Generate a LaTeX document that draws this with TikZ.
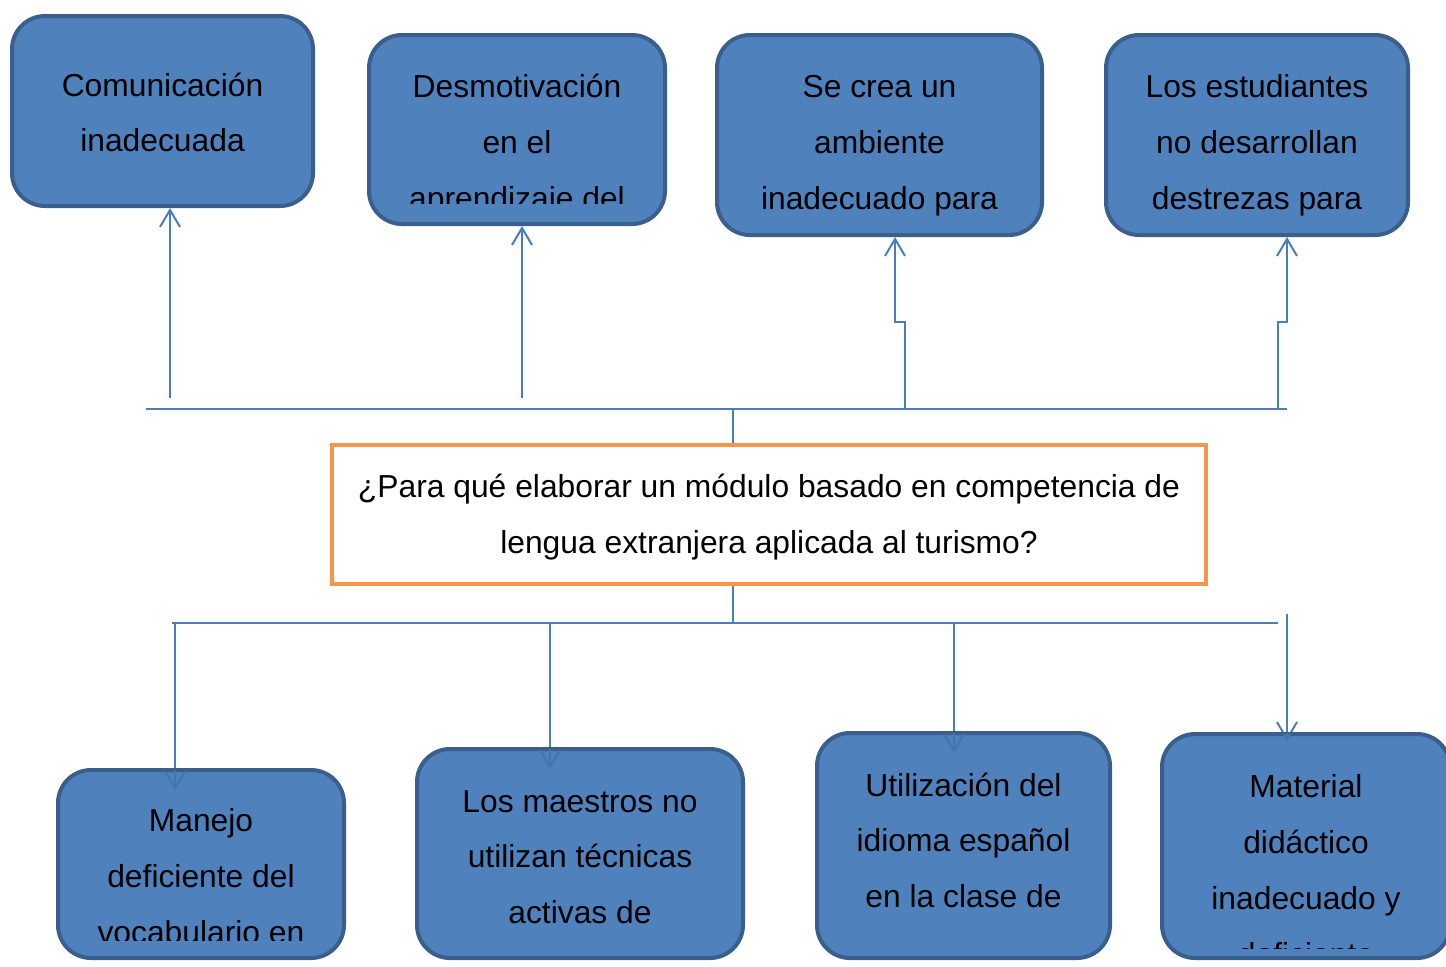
\documentclass[tikz,border=0pt]{standalone}
\usepackage{fontspec}
\setmainfont{Liberation Sans}
\usetikzlibrary{arrows.meta,fit,calc}
\definecolor{boxfill}{HTML}{4F81BD}
\definecolor{boxline}{HTML}{3A5F8C}
\definecolor{conn}{HTML}{4A7EBB}
\definecolor{faint}{HTML}{4574B0}
\definecolor{qline}{HTML}{F79646}
\tikzset{
  box/.style={draw=boxline, line width=2pt, fill=boxfill, rounded corners=16.5pt, inner sep=0pt},
  qbox/.style={draw=qline, line width=2pt, fill=white, inner sep=0pt},
  txt/.style={font=\fontsize{15.9}{18}\selectfont, anchor=base, inner sep=0pt, text=black},
  link/.style={draw=conn, line width=1pt},
  arr/.style={link, -{Straight Barb[length=8.5pt,width=10pt]}},
  farr/.style={draw=faint, line width=1pt, -{Straight Barb[length=8.5pt,width=10pt]}},
}
\begin{document}
\begin{tikzpicture}[x=0.5pt,y=-0.5pt]
\useasboundingbox (0,0) rectangle (1446,966);

% ---- top boxes
\node[box, fit={(12,16) (313,206)}] (b1) {};
\node[box, fit={(369,35) (665,224)}] (b2) {};
\node[box, fit={(717,35) (1042,235)}] (b3) {};
\node[box, fit={(1106,35) (1408,235)}] (b4) {};

\node[txt] (b1l1) at (162.5,96) {Comunicación};
\node[txt] (b1l2) at (162.5,151) {inadecuada};

\begin{scope}
  \clip (369,35) rectangle (665,203);
  \node[txt] (b2l1) at (517,97) {Desmotivación};
  \node[txt] (b2l2) at (517,153) {en el};
  \node[txt] (b2l3) at (517,209) {aprendizaje del};
\end{scope}
\begin{scope}
  \clip (717,35) rectangle (1042,222);
  \node[txt] (b3l1) at (879.5,97) {Se crea un};
  \node[txt] (b3l2) at (879.5,153) {ambiente};
  \node[txt] (b3l3) at (879.5,209) {inadecuado para};
\end{scope}
\begin{scope}
  \clip (1106,35) rectangle (1408,222);
  \node[txt] (b4l1) at (1257,97) {Los estudiantes};
  \node[txt] (b4l2) at (1257,153) {no desarrollan};
  \node[txt] (b4l3) at (1257,209) {destrezas para};
\end{scope}

% ---- question box
\node[qbox, fit={(332,445) (1206,584)}] (q) {};
\node[txt] (ql1) at (769,497) {¿Para qué elaborar un módulo basado en competencia de};
\node[txt] (ql2) at (769,553) {lengua extranjera aplicada al turismo?};

% ---- top connectors
\coordinate (tl) at (146,409);
\coordinate (tr) at (1287,409);
\coordinate (tc) at (733,409);
\draw[link] (tl) -- (tr);
\draw[link] (tc) -- (tc |- q.north);

\coordinate (u1) at (170,398);
\coordinate (u2) at (522,398);
\coordinate (u3) at (905,409);
\coordinate (u3k) at (895,322);
\coordinate (u4) at (1278,409);
\coordinate (u4k) at (1287,322);
\draw[arr] (u1) -- (u1 |- b1.south);
\draw[arr] (u2) -- (u2 |- b2.south);
\draw[arr] (u3) -- (u3 |- u3k) -- (u3k) -- (u3k |- b3.south);
\draw[arr] (u4) -- (u4 |- u4k) -- (u4k) -- (u4k |- b4.south);

% ---- bottom connectors (drawn beneath the boxes)
\coordinate (bl) at (172,623);
\coordinate (br) at (1278,623);
\coordinate (bc) at (733,623);
\draw[link] (bl) -- (br);
\draw[link] (q.south -| bc) -- (bc);

\coordinate (d1) at (175,623);
\coordinate (d2) at (550,623);
\coordinate (d3) at (954,623);
\coordinate (d4) at (1287,614);
\coordinate (e1) at (175,790);
\coordinate (e2) at (550,769);
\coordinate (e3) at (954,753);
\coordinate (e4) at (1287,741);
\draw[arr] (d1) -- (e1);
\draw[arr] (d2) -- (e2);
\draw[arr] (d3) -- (e3);
\draw[arr] (d4) -- (e4);

% ---- bottom boxes
\node[box, fit={(58,770) (344,958)}] (c1) {};
\node[box, fit={(417,749) (743,958)}] (c2) {};
\node[box, fit={(817,733) (1110,958)}] (c3) {};
\node[box, fit={(1162,734) (1450,958)}] (c4) {};

% faint arrow heads seen through the boxes
\begin{scope}
  \clip (58,770) rectangle (344,958);
  \draw[farr] (d1) -- (e1);
\end{scope}
\begin{scope}
  \clip (417,749) rectangle (743,958);
  \draw[farr] (d2) -- (e2);
\end{scope}
\begin{scope}
  \clip (817,733) rectangle (1110,958);
  \draw[farr] (d3) -- (e3);
\end{scope}
\begin{scope}
  \clip (1162,734) rectangle (1450,958);
  \draw[farr] (d4) -- (e4);
\end{scope}

\begin{scope}
  \clip (58,770) rectangle (344,940);
  \node[txt] (c1l1) at (201,831) {Manejo};
  \node[txt] (c1l2) at (201,887) {deficiente del};
  \node[txt] (c1l3) at (201,943) {vocabulario en};
\end{scope}
\begin{scope}
  \clip (417,749) rectangle (743,945);
  \node[txt] (c2l1) at (580,812) {Los maestros no};
  \node[txt] (c2l2) at (580,867) {utilizan técnicas};
  \node[txt] (c2l3) at (580,923) {activas de};
\end{scope}
\begin{scope}
  \clip (817,733) rectangle (1110,935);
  \node[txt] (c3l1) at (963.5,796) {Utilización del};
  \node[txt] (c3l2) at (963.5,851) {idioma español};
  \node[txt] (c3l3) at (963.5,907) {en la clase de};
\end{scope}
\begin{scope}
  \clip (1162,734) rectangle (1450,948);
  \node[txt] (c4l1) at (1306,797) {Material};
  \node[txt] (c4l2) at (1306,853) {didáctico};
  \node[txt] (c4l3) at (1306,909) {inadecuado y};
  \node[txt] (c4l4) at (1306,965) {deficiente};
\end{scope}
\end{tikzpicture}
\end{document}
